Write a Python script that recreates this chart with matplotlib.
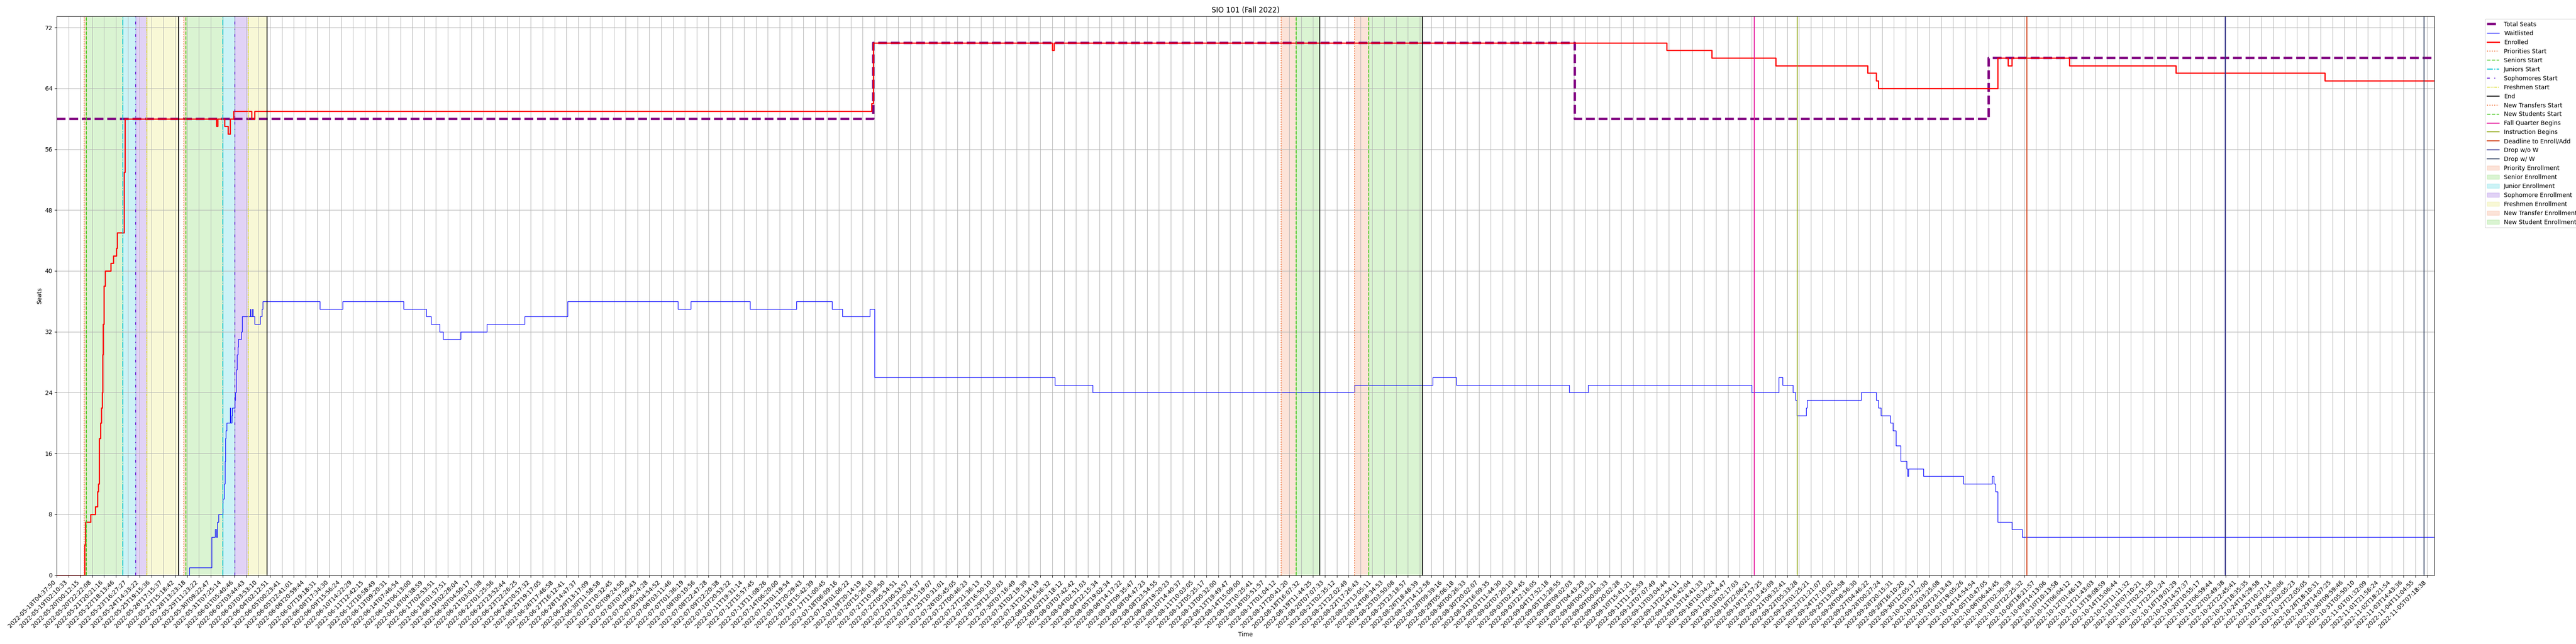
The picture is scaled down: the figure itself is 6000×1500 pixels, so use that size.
import matplotlib
matplotlib.use('Agg')
import matplotlib.pyplot as plt

# tick labels on the x axis (one every fixed number of samples)
tick_labels = [
    '2022-05-18T04:37:50', '2022-05-19T02:10:33', '2022-05-20T00:12:15', '2022-05-20T22:22:08',
    '2022-05-21T20:21:16', '2022-05-22T18:13:46', '2022-05-23T16:27:27', '2022-05-24T14:33:22',
    '2022-05-25T19:15:36', '2022-05-26T17:15:37', '2022-05-27T15:18:42', '2022-05-28T13:23:18',
    '2022-05-29T11:23:22', '2022-05-30T09:22:47', '2022-05-31T07:25:14',
    '2022-06-01T05:40:46', '2022-06-02T03:44:43', '2022-06-03T03:53:10', '2022-06-04T02:12:51',
    '2022-06-05T00:23:41', '2022-06-05T22:41:01', '2022-06-06T20:59:44', '2022-06-07T19:18:31',
    '2022-06-08T17:34:30', '2022-06-09T15:56:24', '2022-06-10T14:22:29', '2022-06-11T12:42:15',
    '2022-06-12T10:58:49', '2022-06-13T09:20:31', '2022-06-14T07:46:54', '2022-06-15T06:13:00',
    '2022-06-16T04:38:59', '2022-06-17T02:53:51', '2022-06-18T01:57:51', '2022-06-19T02:28:04',
    '2022-06-20T04:50:17', '2022-06-21T03:01:38', '2022-06-22T01:25:56', '2022-06-22T23:52:44',
    '2022-06-23T22:26:25', '2022-06-24T20:57:32', '2022-06-25T19:17:05', '2022-06-26T17:46:58',
    '2022-06-27T16:12:41', '2022-06-28T14:47:37', '2022-06-29T13:17:09', '2022-06-30T11:58:58',
    '2022-07-01T10:32:45', '2022-07-02T09:24:50', '2022-07-03T07:50:43', '2022-07-04T06:24:28',
    '2022-07-05T04:54:52', '2022-07-06T03:11:46', '2022-07-07T01:36:19', '2022-07-08T00:10:56',
    '2022-07-08T22:47:28', '2022-07-09T22:20:38', '2022-07-10T20:53:22', '2022-07-11T19:31:14',
    '2022-07-12T15:57:45', '2022-07-13T11:08:26', '2022-07-14T06:20:00', '2022-07-15T01:19:54',
    '2022-07-15T20:29:43', '2022-07-16T15:42:39', '2022-07-17T11:00:45', '2022-07-18T06:09:16',
    '2022-07-19T01:06:22', '2022-07-19T20:14:19', '2022-07-20T15:26:10', '2022-07-21T10:38:50',
    '2022-07-22T05:54:51', '2022-07-23T00:53:57', '2022-07-23T20:04:37', '2022-07-24T15:19:07',
    '2022-07-25T10:31:01', '2022-07-26T05:45:05', '2022-07-27T00:46:23', '2022-07-27T21:36:13',
    '2022-07-28T16:50:10', '2022-07-29T12:03:03', '2022-07-30T07:16:49', '2022-07-31T02:19:39',
    '2022-07-31T21:34:19',
    '2022-08-01T16:56:32', '2022-08-02T12:18:12', '2022-08-03T07:42:42', '2022-08-04T02:51:03',
    '2022-08-04T22:15:34', '2022-08-05T19:02:34', '2022-08-06T14:17:22', '2022-08-07T09:35:47',
    '2022-08-08T04:47:23', '2022-08-08T23:54:55', '2022-08-09T19:20:23', '2022-08-10T14:40:37',
    '2022-08-11T10:03:05', '2022-08-12T05:25:17', '2022-08-13T00:32:00', '2022-08-13T19:49:47',
    '2022-08-14T15:09:00', '2022-08-15T10:25:41', '2022-08-16T05:51:57', '2022-08-17T01:04:12',
    '2022-08-17T20:41:20', '2022-08-18T16:07:32', '2022-08-19T11:44:25', '2022-08-20T07:07:33',
    '2022-08-21T02:35:12', '2022-08-21T22:02:49', '2022-08-22T17:26:43', '2022-08-23T13:05:11',
    '2022-08-24T08:34:53', '2022-08-25T03:50:08', '2022-08-25T23:18:57', '2022-08-26T18:48:39',
    '2022-08-27T14:12:58', '2022-08-28T09:39:16', '2022-08-29T05:06:18', '2022-08-30T00:26:33',
    '2022-08-30T20:02:07', '2022-08-31T16:09:35',
    '2022-09-01T11:44:30', '2022-09-02T07:20:10', '2022-09-03T02:44:45', '2022-09-03T22:16:05',
    '2022-09-04T17:52:18', '2022-09-05T13:28:55', '2022-09-06T09:02:03', '2022-09-07T04:43:29',
    '2022-09-08T00:10:21', '2022-09-09T00:00:33', '2022-09-09T20:02:28', '2022-09-10T15:41:21',
    '2022-09-11T11:25:59', '2022-09-12T07:07:49', '2022-09-13T03:04:44', '2022-09-13T22:54:11',
    '2022-09-14T18:42:04', '2022-09-15T14:41:33', '2022-09-16T10:34:24', '2022-09-17T06:24:47',
    '2022-09-18T02:17:03', '2022-09-18T22:06:21', '2022-09-19T17:57:25', '2022-09-20T13:45:09',
    '2022-09-21T09:32:41', '2022-09-22T05:33:28', '2022-09-23T01:25:21', '2022-09-23T21:21:07',
    '2022-09-24T17:10:02', '2022-09-25T13:04:58', '2022-09-26T08:56:30', '2022-09-27T04:46:22',
    '2022-09-28T00:27:24', '2022-09-28T20:15:31', '2022-09-29T16:10:20', '2022-09-30T12:05:17',
    '2022-10-01T07:52:00', '2022-10-02T03:25:08', '2022-10-02T23:13:43', '2022-10-03T19:05:26',
    '2022-10-04T14:54:54', '2022-10-05T10:47:05', '2022-10-06T06:44:45', '2022-10-07T02:30:39',
    '2022-10-07T22:25:32', '2022-10-08T18:21:57', '2022-10-09T14:13:06', '2022-10-10T10:13:58',
    '2022-10-11T06:04:12', '2022-10-12T01:46:13', '2022-10-12T21:43:03', '2022-10-13T19:08:59',
    '2022-10-14T15:06:44', '2022-10-15T11:11:32', '2022-10-16T07:10:21', '2022-10-17T02:51:50',
    '2022-10-17T22:51:24', '2022-10-18T19:01:29', '2022-10-19T14:57:37', '2022-10-20T10:55:17',
    '2022-10-21T06:59:44', '2022-10-22T02:49:38', '2022-10-22T22:45:41', '2022-10-23T18:35:35',
    '2022-10-24T14:29:58', '2022-10-25T10:27:14', '2022-10-26T06:20:06', '2022-10-27T02:05:23',
    '2022-10-27T22:05:05', '2022-10-28T18:10:31', '2022-10-29T14:07:25', '2022-10-30T09:59:46',
    '2022-10-31T05:50:10',
    '2022-11-01T01:32:09', '2022-11-01T21:56:24', '2022-11-02T18:21:54', '2022-11-03T14:43:36',
    '2022-11-04T11:04:55', '2022-11-05T07:18:38',
]

# x positions below are in tick units (0 = first tick label, 1 = next, ...)
x_end = 200.6

total_x = [0, 68.9, 128.1, 163.0, x_end]
total_y = [60, 70, 60, 68, 68]

enrolled_x = [0, 2.35, 2.42, 2.85, 3.25, 3.44, 3.51, 3.59, 3.68, 3.77, 3.83, 3.86, 3.92, 3.99,
              4.09, 4.55, 4.77, 5.03, 5.10, 5.67, 5.75, 13.47, 13.58, 14.15, 14.47, 14.64, 14.93,
              16.46, 16.70, 68.75, 68.90, 84.00, 84.15, 135.85, 139.65, 145.03, 152.80, 153.52,
              153.69, 163.76, 164.62, 164.96, 169.82, 178.79, 191.38, x_end]
enrolled_y = [0, 4, 7, 8, 9, 11, 12, 18, 20, 22, 24, 29, 33, 38,
              40, 41, 42, 43, 45, 53, 60, 59, 60, 59, 58, 60, 61,
              60, 61, 62, 70, 69, 70, 69, 68, 67, 66, 65,
              64, 68, 67, 68, 67, 66, 65, 65]

waitlisted_x = [0, 11.20, 13.09, 13.38, 13.48, 13.55, 13.64, 14.03, 14.12, 14.20, 14.23, 14.27,
                14.34, 14.62, 14.66, 14.79, 14.82, 15.05, 15.08, 15.14, 15.21, 15.27, 15.32,
                15.56, 15.66, 16.32, 16.36, 16.52, 16.56, 16.71, 17.17, 17.30, 17.38, 22.22,
                24.14, 29.26, 31.2, 31.6, 32.3, 32.6, 34.1, 36.3, 39.5, 43.1, 52.4, 53.5, 58.5,
                62.4, 65.4, 66.3, 68.6, 69.0, 84.2, 87.4, 109.5, 116.1, 118.1, 127.6, 129.2,
                143.02, 145.28, 145.63, 146.48, 146.69, 146.80, 147.59, 147.67, 152.24, 153.52,
                153.69, 153.91, 154.72, 154.93, 155.19, 155.57, 156.09, 156.15, 156.21, 157.49,
                160.86, 163.29, 163.42, 163.59, 163.76, 164.96, 165.81, x_end]
waitlisted_y = [0, 1, 5, 6, 5, 7, 8, 10, 12, 15, 18, 19,
                20, 22, 20, 21, 22, 23, 24, 27, 29, 30, 31,
                32, 34, 35, 34, 35, 34, 33, 34, 35, 36, 35,
                36, 35, 34, 33, 32, 31, 32, 33, 34, 36, 35, 36, 35,
                36, 35, 34, 35, 26, 25, 24, 25, 26, 25, 24, 25,
                24, 26, 25, 24, 23, 21, 22, 23, 24, 23,
                22, 21, 20, 19, 17, 15, 14, 13, 14, 13,
                12, 13, 12, 11, 7, 6, 5, 5]

# enrollment passes: priorities, seniors, juniors, sophomores, freshmen, end
class_passes = [
    [2.31, 2.50, 5.58, 6.67, 7.60, 10.28],
    [10.72, 10.91, 14.01, 15.05, 16.16, 17.76],
]
# new student passes: new transfers, new students, end
new_passes = [
    [103.30, 104.56, 106.56],
    [109.49, 110.71, 115.21],
]
quarter_events = ['Fall Quarter Begins', 'Instruction Begins', 'Deadline to Enroll/Add',
                  'Drop w/o W', 'Drop w/ W']
quarter_event_x = [143.24, 146.85, 166.24, 182.97, 199.74]

start_labels = ['Priorities Start', 'Seniors Start', 'Juniors Start', 'Sophomores Start',
                'Freshmen Start']
span_labels = ['Priority Enrollment', 'Senior Enrollment', 'Junior Enrollment',
               'Sophomore Enrollment', 'Freshmen Enrollment']
new_start_labels = ['New Transfers Start', 'New Students Start']
new_span_labels = ['New Transfer Enrollment', 'New Student Enrollment']

colors = ['#f0743c', '#46c81e', '#00c4d4', '#6a22d4', '#dcdc32']
styles = [':', '--', '-.', (0, (3, 5, 1, 5)), (0, (3, 1, 1, 1, 1, 1))]
event_colors = ['#e6179b', '#8fa814', '#d2461e', '#2e2e8c', '#2e3e5e']


def plot_seats(ax):
    ax.step(total_x, total_y, where='post', color='purple', linestyle='--', linewidth=4,
            label='Total Seats')
    ax.step(waitlisted_x, waitlisted_y, where='post', color='blue', linewidth=1,
            label='Waitlisted')
    ax.step(enrolled_x, enrolled_y, where='post', color='red', linewidth=2, label='Enrolled')


def plot_events(ax):
    # vertical lines first, spans after (that is the legend order)
    for n, p in enumerate(class_passes):
        for i in range(5):
            ax.axvline(p[i], color=colors[i], linestyle=styles[i], linewidth=1.5,
                       label=start_labels[i] if n == 0 else None)
        ax.axvline(p[5], color='black', linewidth=1.5, label='End' if n == 0 else None)
    for n, p in enumerate(new_passes):
        for i in range(2):
            ax.axvline(p[i], color=colors[i], linestyle=styles[i], linewidth=1.5,
                       label=new_start_labels[i] if n == 0 else None)
        ax.axvline(p[2], color='black', linewidth=1.5)
    for i in range(len(quarter_events)):
        ax.axvline(quarter_event_x[i], color=event_colors[i], linewidth=1.5,
                   label=quarter_events[i])

    for n, p in enumerate(class_passes):
        for i in range(5):
            ax.axvspan(p[i], p[i + 1], color=colors[i], alpha=0.2,
                       label=span_labels[i] if n == 0 else None)
    for n, p in enumerate(new_passes):
        for i in range(2):
            ax.axvspan(p[i], p[i + 1], color=colors[i], alpha=0.2,
                       label=new_span_labels[i] if n == 0 else None)


if __name__ == '__main__':
    fig, ax = plt.subplots(figsize=(60, 15), dpi=100)
    fig.subplots_adjust(left=0.022, right=0.945, top=0.975, bottom=0.107)

    plot_seats(ax)
    plot_events(ax)

    ax.set_xlim(0, x_end)
    ax.set_ylim(0, max(total_y) * 1.05)
    ax.set_xticks(range(len(tick_labels)))
    ax.set_xticklabels(tick_labels, rotation=45, ha='right')
    ax.set_yticks(range(0, 73, 8))
    ax.grid(True)

    ax.set_title('SIO 101 (Fall 2022)')
    ax.set_xlabel('Time')
    ax.set_ylabel('Seats')
    ax.legend(loc='upper left', bbox_to_anchor=(1.02, 1))

    fig.savefig('out.png', dpi=100)
